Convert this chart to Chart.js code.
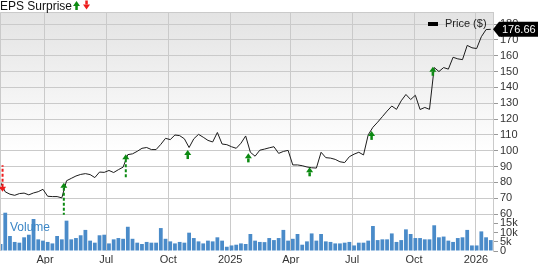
<!DOCTYPE html>
<html>
<head>
<meta charset="utf-8">
<script src="https://cdn.jsdelivr.net/npm/chart.js@4.4.1/dist/chart.umd.min.js"></script>
<style>
  html, body { margin: 0; padding: 0; background: #fff; }
  canvas { display: block; }
</style>
</head>
<body>
<canvas id="myChart" width="538" height="264"></canvas>
<script>
// weekly closes, first week ending 2024-01-26
const firstWeek = '2024-01-26'
const price = [80, 74, 72.5, 71.8, 72.9, 73.2, 72.1, 73.3, 74.1, 75.6,
  71.2, 71, 71, 70.2, 81, 82.5, 84, 85, 85.5, 84.9,
  83, 86.5, 86.3, 87.5, 86.2, 88, 89.6, 97.5, 98, 99.6,
  101.5, 102, 100.7, 100.7, 104, 107.8, 107, 109.9, 109.5, 107.5,
  102, 107.5, 110.3, 108.5, 106.5, 105.5, 111.5, 104.2, 103.8, 102.5,
  101.5, 104.7, 109.3, 99, 96.5, 100.3, 101, 101.8, 102.5, 98.3,
  99.5, 100.2, 91, 91, 90.5, 89.7, 89.2, 89, 99, 95.6,
  95.3, 94.5, 93, 92.5, 96.2, 97.8, 99, 97.3, 110, 114.8,
  118, 121.5, 125, 128.2, 126.1, 131.5, 135.5, 132.3, 135, 126,
  127.3, 126.1, 152.5, 150, 152.5, 151.5, 159, 158, 157.5, 166.5,
  165, 164.5, 172, 176.5, 176.66]
// volume in thousands
const volume = [3.8, 20.7, 8.1, 4.9, 4.5, 7.4, 8.8, 17.3, 6.3, 5.6,
  4.9, 4.1, 8.1, 6.3, 16.4, 6.3, 7.0, 8.5, 11.4, 5.6,
  4.5, 8.5, 8.8, 4.1, 6.3, 7.0, 6.6, 13.1, 6.6, 4.5,
  3.8, 4.9, 4.5, 4.5, 12.4, 6.6, 5.2, 4.1, 4.9, 4.5,
  9.9, 7.0, 5.2, 4.1, 5.6, 5.2, 7.4, 5.6, 2.3, 3.0,
  3.4, 4.1, 3.8, 9.2, 5.6, 4.9, 4.8, 7.0, 5.9, 7.0,
  11.4, 5.6, 6.6, 9.2, 3.4, 5.2, 9.5, 5.6, 9.2, 5.2,
  4.9, 4.1, 4.1, 4.5, 4.9, 3.0, 4.5, 4.5, 5.6, 13.5,
  5.9, 6.3, 6.3, 9.5, 4.9, 5.9, 11.7, 9.2, 7.0, 7.0,
  6.3, 6.3, 13.9, 7.4, 7.8, 5.6, 4.9, 7.0, 7.4, 11.4,
  3.0, 3.0, 10.6, 7.4, 5.9]
const lastPrice = 176.66

const quarterDates = ['2024-04-01', '2024-07-01', '2024-10-01', '2025-01-01',
  '2025-04-01', '2025-07-01', '2025-10-01', '2026-01-01']
const quarterLabels = ['Apr', 'Jul', 'Oct', '2025', 'Apr', 'Jul', 'Oct', '2026']
const priceTicks = [60, 70, 80, 90, 100, 110, 120, 130, 140, 150, 160, 170, 180]
const volumeTicks = [0, 5, 10, 15]

// earnings reports: date, price at the arrow tip, surprise %
const epsDates = ['2024-01-29', '2024-04-29', '2024-07-30', '2024-10-30',
  '2025-01-28', '2025-04-29', '2025-07-30', '2025-10-29']
const epsPrice = [74, 79.8, 97.7, 100.4, 98.3, 89.5, 112.5, 153]
const epsSurprise = [-8, 10, 7, 1, 1, 1, 1, 1]

const FONT = '"Liberation Sans", Arial, Helvetica, sans-serif'
const GRID = '#cacaca'
const GREEN = '#0c8a12'
const RED = '#ee1c1c'

function dayOf(s) {
  return (Date.parse(s) - Date.parse('2024-01-01')) / 864e5
}
const weeks = price.map((p, i) => dayOf(firstWeek) + 7 * i)
const quarterDays = quarterDates.map(dayOf)

function drawArrow(ctx, x, tipY, dir, color, tail) {
  // dir -1 = points up, 1 = points down
  const headH = 5, headW = 3.5
  const baseY = tipY - dir * headH
  ctx.fillStyle = color
  ctx.strokeStyle = color
  ctx.beginPath()
  ctx.moveTo(x, tipY)
  ctx.lineTo(x - headW, baseY)
  ctx.lineTo(x + headW, baseY)
  ctx.closePath()
  ctx.fill()
  if (tail) {
    ctx.setLineDash([3, 2])
    ctx.lineWidth = 2
    ctx.beginPath()
    ctx.moveTo(x, baseY)
    ctx.lineTo(x, baseY - dir * tail)
    ctx.stroke()
    ctx.setLineDash([])
  } else {
    const y0 = dir < 0 ? baseY : baseY - 4
    ctx.fillRect(x - 1.25, y0, 2.5, 4)
  }
}

const decor = {
  id: 'decor',
  beforeDraw(chart) {
    const { ctx, chartArea: a, scales: { y } } = chart
    ctx.save()
    ctx.fillStyle = '#fff'
    ctx.fillRect(0, 0, chart.width, chart.height)
    const g = ctx.createLinearGradient(0, y.top, 0, y.top + 140)
    g.addColorStop(0, '#e3e3e3')
    g.addColorStop(1, '#ffffff')
    ctx.fillStyle = g
    ctx.fillRect(a.left, y.top, a.right - a.left, y.bottom - y.top)
    ctx.restore()
  },
  afterDraw(chart) {
    const { ctx, chartArea: a, scales: { x, y } } = chart
    ctx.save()
    // frame
    ctx.strokeStyle = GRID
    ctx.lineWidth = 1
    ctx.beginPath()
    ctx.moveTo(a.left + 0.5, a.bottom)
    ctx.lineTo(a.left + 0.5, a.top + 0.5)
    ctx.lineTo(a.right, a.top + 0.5)
    ctx.stroke()

    // eps arrows
    epsDates.forEach((d, i) => {
      const px = x.getPixelForValue(dayOf(d))
      const py = y.getPixelForValue(epsPrice[i])
      const s = epsSurprise[i]
      const tail = Math.abs(s) >= 5 ? Math.abs(s) * 2.7 : 0
      drawArrow(ctx, px, py, s < 0 ? 1 : -1, s < 0 ? RED : GREEN, tail)
    })

    // title
    ctx.fillStyle = '#111'
    ctx.font = '12px ' + FONT
    ctx.textBaseline = 'alphabetic'
    ctx.textAlign = 'left'
    ctx.fillText('EPS Surprise', 0, 10)
    const tw = ctx.measureText('EPS Surprise').width
    drawArrow(ctx, tw + 4.5, 1, -1, GREEN, 0)
    drawArrow(ctx, tw + 14.5, 9.5, 1, RED, 0)

    // legend
    ctx.fillStyle = '#000'
    ctx.fillRect(a.right - 65, a.top + 10, 10, 4)
    ctx.fillStyle = '#222'
    ctx.font = '11px ' + FONT
    ctx.textBaseline = 'middle'
    ctx.fillText('Price ($)', a.right - 48, a.top + 12)

    // last price tag
    const ly = y.getPixelForValue(lastPrice)
    ctx.fillStyle = '#000'
    ctx.beginPath()
    ctx.moveTo(a.right, ly)
    ctx.lineTo(a.right + 6, ly - 7.5)
    ctx.lineTo(chart.width, ly - 7.5)
    ctx.lineTo(chart.width, ly + 7.5)
    ctx.lineTo(a.right + 6, ly + 7.5)
    ctx.closePath()
    ctx.fill()
    ctx.fillStyle = '#fff'
    ctx.font = '11px ' + FONT
    ctx.fillText(lastPrice.toFixed(2), a.right + 9, ly + 0.5)

    // volume label
    ctx.fillStyle = '#3b86c6'
    ctx.font = '12px ' + FONT
    ctx.textBaseline = 'alphabetic'
    ctx.fillText('Volume', a.left + 10, chart.scales.y2.top + 17)
    ctx.restore()
  }
}

const ctx = document.getElementById('myChart').getContext('2d')
const myChart = new Chart(ctx, {
  type: 'bar',
  data: {
    datasets: [{
      type: 'line',
      label: 'Price ($)',
      data: weeks.map((d, i) => ({ x: d, y: price[i] })),
      yAxisID: 'y',
      borderColor: '#1c1c1c',
      borderWidth: 1,
      pointRadius: 0,
      tension: 0
    }, {
      type: 'bar',
      label: 'Volume',
      data: weeks.map((d, i) => ({ x: d, y: volume[i] })),
      yAxisID: 'y2',
      backgroundColor: '#4a8bc9',
      barPercentage: 0.8,
      categoryPercentage: 1,
      clip: false
    }]
  },
  options: {
    responsive: false,
    animation: false,
    layout: { padding: { top: 12, left: 0, right: 0, bottom: 0 } },
    plugins: { legend: { display: false }, tooltip: { enabled: false } },
    scales: {
      x: {
        type: 'linear',
        offset: false,
        min: 24.2,
        max: 756.3,
        afterBuildTicks: s => { s.ticks = quarterDays.map(v => ({ value: v })) },
        afterFit: s => { s.height = 13 },
        grid: { color: GRID, drawTicks: false, offset: false },
        border: { display: false },
        ticks: {
          padding: 2, autoSkip: false, maxRotation: 0, color: '#333',
          font: { size: 11, family: FONT },
          callback: (v, i) => quarterLabels[i]
        }
      },
      y: {
        type: 'linear',
        position: 'right',
        stack: 'panes',
        stackWeight: 202,
        min: 60,
        max: 187.6,
        afterBuildTicks: s => { s.ticks = priceTicks.map(v => ({ value: v })) },
        afterFit: s => { s.width = 45 },
        grid: { color: GRID, tickColor: '#999', tickLength: 5 },
        border: { color: GRID },
        ticks: { padding: 2, autoSkip: false, color: '#333', font: { size: 11, family: FONT } }
      },
      y2: {
        type: 'linear',
        position: 'right',
        stack: 'panes',
        stackWeight: 37,
        min: 0,
        max: 20,
        afterBuildTicks: s => { s.ticks = volumeTicks.map(v => ({ value: v })) },
        afterFit: s => { s.width = 45 },
        grid: { color: 'transparent', tickColor: '#999', tickLength: 5 },
        border: { color: GRID },
        ticks: {
          padding: 2, autoSkip: false, color: '#333', font: { size: 11, family: FONT },
          callback: v => v ? v + 'k' : '0'
        }
      }
    }
  },
  plugins: [decor]
})
</script>
</body>
</html>
